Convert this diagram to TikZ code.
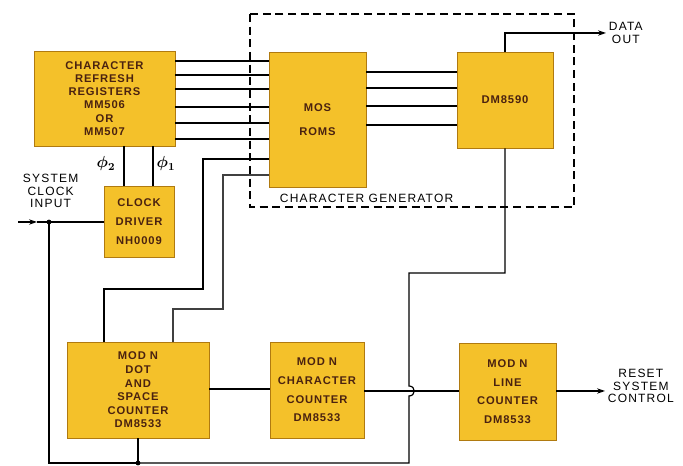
\documentclass[tikz,border=0pt]{standalone}
\usepackage{fontspec}
\setsansfont{Liberation Sans}
\newfontfamily\lblfont[LetterSpace=10]{Liberation Sans}
\newfontfamily\boxfont[LetterSpace=8]{Liberation Sans}
\usetikzlibrary{shadows,arrows.meta}
\definecolor{boxfill}{HTML}{F4C12A}
\definecolor{boxedge}{HTML}{B07A10}
\definecolor{boxtext}{HTML}{4A2210}
\begin{document}
\begin{tikzpicture}[x=0.75pt,y=-0.75pt,
  box/.style={draw=boxedge,line width=0.6pt,fill=boxfill,align=center,text=boxtext,
    inner sep=1pt,
    drop shadow={shadow xshift=1pt,shadow yshift=-1pt,fill=black!80,opacity=1},
    font=\boxfont\bfseries\fontsize{8.4}{9.9}\selectfont},
  wire/.style={line width=0.9pt,black},
  arr/.style={wire,-{Stealth[length=6pt,width=4pt]}},
  lbl/.style={align=center,inner sep=2pt,font=\lblfont\fontsize{9}{9.6}\selectfont},
  phil/.style={font=\boldmath\fontsize{12}{14}\selectfont},
  dot/.style={circle,fill=black,inner sep=0pt,minimum size=3.6pt}]
\useasboundingbox (0,0) rectangle (683,466);

% dashed character generator frame
\draw[line width=0.9pt,dash pattern=on 6pt off 3.5pt] (250,14) rectangle (574,207);
\node[lbl,anchor=west] (cglbl) at (277,198) {CHARACTER GENERATOR};

% boxes
\node[box,minimum width=105.75pt,minimum height=71.25pt] (crr) at (104.5,98.5)
  {CHARACTER\\REFRESH\\REGISTERS\\MM506\\OR\\MM507};
\node[box,minimum width=72.75pt,minimum height=101.25pt,font=\boxfont\bfseries\fontsize{8.4}{18}\selectfont] (mos) at (317.5,119.5)
  {MOS\\ROMS};
\node[box,minimum width=72pt,minimum height=72pt] (dm) at (505,100) {DM8590};
\node[box,minimum width=52.5pt,minimum height=53.25pt,font=\boxfont\bfseries\fontsize{8.4}{14}\selectfont] (clk) at (139,221.5)
  {CLOCK\\DRIVER\\NH0009};
\node[box,minimum width=106.5pt,minimum height=72pt,font=\boxfont\bfseries\fontsize{8.4}{10.2}\selectfont] (dotc) at (138,390)
  {MOD N\\DOT\\AND\\SPACE\\COUNTER\\DM8533};
\node[box,minimum width=70.5pt,minimum height=72pt,font=\boxfont\bfseries\fontsize{8.4}{14}\selectfont] (charc) at (317,390)
  {MOD N\\CHARACTER\\COUNTER\\DM8533};
\node[box,minimum width=72.75pt,minimum height=72.75pt,font=\boxfont\bfseries\fontsize{8.4}{14}\selectfont] (linec) at (507.5,391.5)
  {MOD N\\LINE\\COUNTER\\DM8533};

% outside labels
\node[lbl,anchor=west] (sysclk) at (20,191) {SYSTEM\\CLOCK\\INPUT};
\node[lbl,anchor=west] (dout) at (606,33) {DATA\\OUT};
\node[lbl,anchor=west] (reset) at (605,386) {RESET\\SYSTEM\\CONTROL};
\node[phil] (phi2) at (106,164) {$\phi_2$};
\node[phil] (phi1) at (166,164) {$\phi_1$};

% coordinates
\coordinate (sysin) at (18,222);
\coordinate (sysmid) at (37,222);
\coordinate (j1) at (49,222);
\coordinate (j2) at (138,463);
\coordinate (bl) at (49,463);
\coordinate (hopa) at (409,386);
\coordinate (hopb) at (409,396);

% CRR -> MOS ROMs
\foreach \yy in {61,75,89,107,123,139}
  \draw[wire] (crr.east|-0,\yy) -- (mos.west|-0,\yy);
% MOS ROMs -> DM8590
\foreach \yy in {72,88,106,125}
  \draw[wire] (mos.east|-0,\yy) -- (dm.west|-0,\yy);
% phases
\draw[wire] (crr.south-|124,0) -- (clk.north-|124,0);
\draw[wire] (crr.south-|153,0) -- (clk.north-|153,0);
% system clock input
\draw[arr] (sysin) -- (sysmid);
\draw[wire] (sysmid) -- (clk.west|-sysmid);
\draw[wire] (j1) -- (bl) -- (j2);
\node[dot] at (j1) {};
% counter to MOS ROMs
\draw[wire] (dotc.north-|104,0) -- (104,289) -- (203,289) -- (203,159) -- (mos.west|-0,159);
\draw[wire,black!75] (dotc.north-|173,0) -- (173,309) -- (223,309) -- (223,175) -- (mos.west|-0,175);
% counter chain
\draw[wire] (dotc.east|-0,389) -- (charc.west|-0,389);
\draw[wire] (charc.east|-0,391) -- (linec.west|-0,391);
\draw[arr] (linec.east|-0,391) -- (reset.west|-0,391);
% DM8590 feedback with hop
\draw[wire] (dm.south) -- (505,273) -- (409,273) -- (hopa)
  .. controls (416,386) and (416,396) .. (hopb) -- (409,463) -- (j2);
\draw[wire] (dotc.south) -- (j2);
\node[dot] at (j2) {};
% data out
\draw[arr] (dm.north) |- (dout.west);
\end{tikzpicture}
\end{document}
